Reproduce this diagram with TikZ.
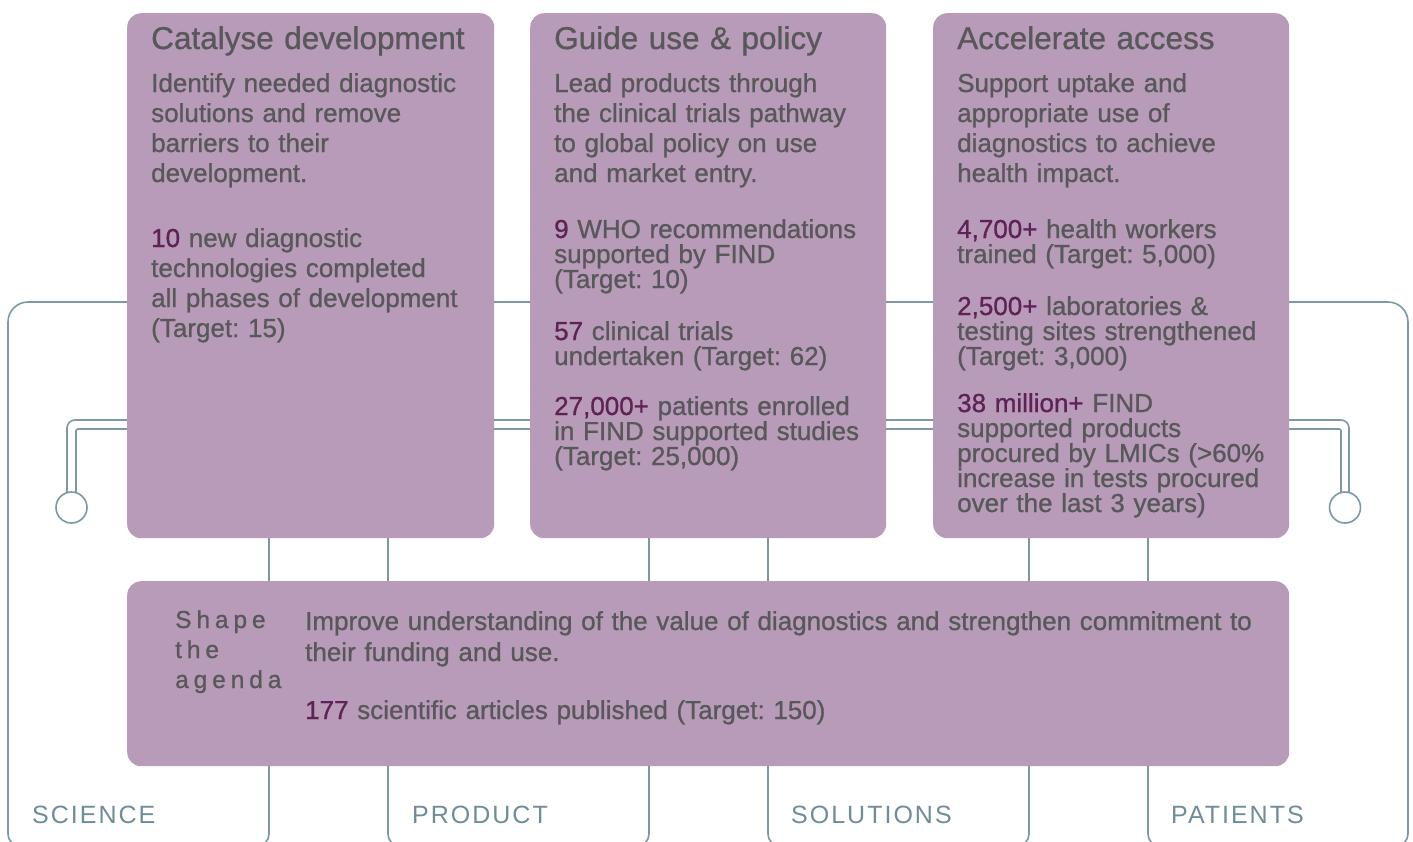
\documentclass[tikz,border=0pt]{standalone}
\usepackage{fontspec}
\setmainfont[FakeBold=0.9]{Liberation Sans}
\newfontfamily\shapefont[LetterSpace=20,FakeBold=0.9]{Liberation Sans}
\newfontfamily\capsfont[LetterSpace=8]{Liberation Sans}
\definecolor{boxfill}{HTML}{B89BB8}
\definecolor{wirecol}{HTML}{7C98A5}
\definecolor{textgray}{HTML}{58585A}
\definecolor{numcol}{HTML}{5E2257}
\definecolor{labelcol}{HTML}{6E8C99}
\newcommand\figr[1]{\textcolor{numcol}{#1}}
\lineskiplimit=-100pt
\frenchspacing
\begin{document}
\frenchspacing
\begin{tikzpicture}[x=1pt,y=-1pt,
  panel/.style={fill=boxfill, draw=none, rounded corners=14pt, inner sep=0pt, anchor=north west},
  wire/.style={draw=wirecol, line width=1.6pt},
  txt/.style={anchor=base west, inner sep=0pt, text width=#1, align=left, text=textgray},
  txt/.default=420pt,
  ttl/.style={txt, font=\fontsize{31.5}{36}\selectfont},
  body/.style={txt, font=\fontsize{26}{30}\selectfont},
  stat/.style={txt, font=\fontsize{26}{25}\selectfont},
  lab/.style={anchor=base west, inner sep=0pt, text=labelcol, font=\capsfont\fontsize{25}{30}\selectfont}
]
\useasboundingbox (0,0) rectangle (1413,841);

% background wires
\draw[wire, rounded corners=20pt] (8,700) -- (8,302) -- (1408,302) -- (1408,700);
\draw[wire, rounded corners=12pt] (8,699) -- (8,846) -- (269,846) -- (269,520);
\draw[wire, rounded corners=12pt] (388,520) -- (388,846) -- (649,846) -- (649,520);
\draw[wire, rounded corners=12pt] (768,520) -- (768,846) -- (1029,846) -- (1029,520);
\draw[wire, rounded corners=12pt] (1148,520) -- (1148,846) -- (1408,846) -- (1408,699);
\draw[wire, rounded corners=8pt] (67,492.8) -- (67,420) -- (1349,420) -- (1349,492.8);
\draw[wire, rounded corners=2pt] (76,492.8) -- (76,429) -- (1341,429) -- (1341,492.8);
\draw[wire] (71.5,507.5) circle[radius=15.5pt];
\draw[wire] (1345,507.5) circle[radius=15.5pt];

% panels
\node[panel, minimum width=367pt, minimum height=525pt] (b1) at (127,13) {};
\node[panel, minimum width=356pt, minimum height=525pt] (b2) at (530,13) {};
\node[panel, minimum width=356pt, minimum height=525pt] (b3) at (933,13) {};
\node[panel, minimum width=1162pt, minimum height=185pt] (b4) at (127,581) {};

% box 1
\node[ttl] (t1) at (151,49) {Catalyse development};
\node[body] (d1) at (151,92) {Identify needed diagnostic\\solutions and remove\\barriers to their\\development.};
\node[body] (s1) at (151,247) {\figr{10} new diagnostic\\technologies completed\\all phases of development\\(Target: 15)};

% box 2
\node[ttl] (t2) at (554,49) {Guide use \& policy};
\node[body] (d2) at (554,92) {Lead products through\\the clinical trials pathway\\to global policy on use\\and market entry.};
\node[stat] (s2a) at (554,238) {\figr{9} WHO recommendations\\supported by FIND\\(Target: 10)};
\node[stat] (s2b) at (554,340) {\figr{57} clinical trials\\undertaken (Target: 62)};
\node[stat] (s2c) at (554,415) {\figr{27,000+} patients enrolled\\in FIND supported studies\\(Target: 25,000)};

% box 3
\node[ttl] (t3) at (957,49) {Accelerate access};
\node[body] (d3) at (957,92) {Support uptake and\\appropriate use of\\diagnostics to achieve\\health impact.};
\node[stat] (s3a) at (957,238) {\figr{4,700+} health workers\\trained (Target: 5,000)};
\node[stat] (s3b) at (957,315) {\figr{2,500+} laboratories \&\\testing sites strengthened\\(Target: 3,000)};
\node[stat] (s3c) at (957,412) {\figr{38 million+} FIND\\supported products\\procured by LMICs (>60\%\\increase in tests procured\\over the last 3 years)};

% bottom box
\node[txt=200pt, font=\shapefont\fontsize{24.5}{30}\selectfont] (sh) at (175,628) {Shape\\the\\agenda};
\node[txt=1000pt, font=\fontsize{26}{31}\selectfont] (im) at (305,630) {Improve understanding of the value of diagnostics and strengthen commitment to\\their funding and use.};
\node[txt=1000pt, font=\fontsize{26}{30}\selectfont] (pub) at (305,719) {\figr{177} scientific articles published (Target: 150)};

% labels
\node[lab] (l1) at (32,823) {SCIENCE};
\node[lab] (l2) at (412,823) {PRODUCT};
\node[lab] (l3) at (791,823) {SOLUTIONS};
\node[lab] (l4) at (1171,823) {PATIENTS};
\end{tikzpicture}
\end{document}
